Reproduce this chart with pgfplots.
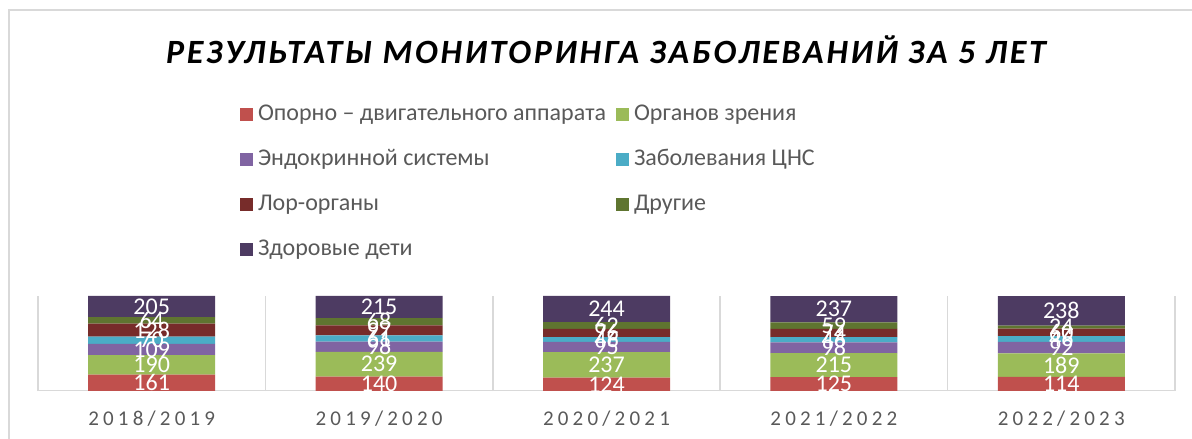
\documentclass[border=0pt]{standalone}
\usepackage{fontspec}
\setmainfont{Carlito}
\newfontfamily\titlefont[LetterSpace=8]{Carlito}
\newfontfamily\tickfont[LetterSpace=20]{Carlito}
\usepackage{pgfplots}
\usepackage{pgfplotstable}
\pgfplotsset{compat=1.18}

\definecolor{cOpora}{HTML}{C0504D}
\definecolor{cZrenie}{HTML}{9BBB59}
\definecolor{cEndo}{HTML}{8064A2}
\definecolor{cCNS}{HTML}{4BACC6}
\definecolor{cLor}{HTML}{772C2A}
\definecolor{cOther}{HTML}{5F7530}
\definecolor{cHealthy}{HTML}{4D3B62}
\definecolor{gridgray}{HTML}{D9D9D9}
\definecolor{textgray}{HTML}{595959}

% a: опорно-двигательный, b: зрение, c: эндокр., d: ЦНС, e: лор, f: другие, g: здоровые
\pgfplotstableread{
x a b c d e f g
0 161 190 109 70 128 64 205
1 140 239 98 61 97 68 215
2 124 237 95 46 76 62 244
3 125 215 98 46 74 59 237
4 114 189 92 46 60 24 238
}\data
\pgfplotstablecreatecol[create col/expr={\thisrow{a}+\thisrow{b}+\thisrow{c}+\thisrow{d}+\thisrow{e}+\thisrow{f}+\thisrow{g}}]{t}\data

\pgfplotsset{
  frame axis/.style={
    at={(19bp,24bp)}, anchor=south west,
    scale only axis, width=568.5bp, height=47.5bp,
    xmin=-0.5, xmax=4.5, ymin=0, ymax=100,
  },
}

\newcommand{\seg}[2]{%
  \addplot[fill=#2, draw=none] table[x=x, y expr={\thisrow{#1}/\thisrow{t}*100}]{\data};}
\newcommand{\lbl}[2]{%
  \addplot[draw=none, mark=none, nodes near coords, point meta=explicit,
    nodes near coords align=center]
    table[x=x, y expr={(#2)/\thisrow{t}*100}, meta=#1]{\data};}

\begin{document}
\begin{tikzpicture}
\useasboundingbox (0,0) rectangle (596bp,219.5bp);
\draw[gridgray, line width=0.75bp] (4.5bp,-2bp) -- (4.5bp,214.5bp) -- (600bp,214.5bp);

\node[font=\titlefont\bfseries\itshape\fontsize{17bp}{19bp}\selectfont]
  at (303bp,194.5bp) {РЕЗУЛЬТАТЫ МОНИТОРИНГА ЗАБОЛЕВАНИЙ ЗА 5 ЛЕТ};

\begin{axis}[
  frame axis,
  ybar stacked, bar width=63.5bp,
  axis line style={draw=none},
  ytick=\empty,
  xtick={0,1,2,3,4},
  xticklabels={2018/2019,2019/2020,2020/2021,2021/2022,2022/2023},
  major x tick style={draw=none},
  xticklabel style={font=\tickfont\fontsize{10.5bp}{12bp}\selectfont,
    text=textgray, anchor=base, yshift=-17bp},
  extra x ticks={-0.5,0.5,1.5,2.5,3.5,4.5},
  extra x tick labels={},
  extra x tick style={grid=major, major grid style={gridgray, line width=0.75bp},
    major tick style={draw=none}},
  legend columns=2,
  legend cell align=left,
  legend style={at={(axis description cs:0.1777,3.03)}, anchor=north west,
    draw=none, fill=none, inner sep=0pt, outer sep=0pt, row sep=11.5bp,
    nodes={inner sep=0pt, text=textgray,
      font=\fontsize{12bp}{14bp}\selectfont, text height=8.5bp, text depth=2.5bp},
    /tikz/every even column/.append style={column sep=5bp}},
  legend image code/.code={%
    \fill[#1, draw=none] (0bp,-3.25bp) rectangle (6.5bp,3.25bp);
    \path (9bp,0bp);},
]
\seg{a}{cOpora}
\seg{b}{cZrenie}
\seg{c}{cEndo}
\seg{d}{cCNS}
\seg{e}{cLor}
\seg{f}{cOther}
\seg{g}{cHealthy}
\legend{Опорно – двигательного аппарата, Органов зрения, Эндокринной системы,
  Заболевания ЦНС, Лор-органы, Другие, Здоровые дети}
\draw[gridgray, line width=0.75bp] (rel axis cs:0,0) -- (rel axis cs:1,0);
\end{axis}

\begin{axis}[
  frame axis, hide axis, clip=false,
  /pgf/number format/assume math mode=true,
  every node near coord/.append style={text=white,
    font=\fontsize{12bp}{14bp}\selectfont, inner sep=0pt},
]
\lbl{a}{\thisrow{a}/2}
\lbl{b}{\thisrow{a}+\thisrow{b}/2}
\lbl{c}{\thisrow{a}+\thisrow{b}+\thisrow{c}/2}
\lbl{d}{\thisrow{a}+\thisrow{b}+\thisrow{c}+\thisrow{d}/2}
\lbl{e}{\thisrow{a}+\thisrow{b}+\thisrow{c}+\thisrow{d}+\thisrow{e}/2}
\lbl{f}{\thisrow{a}+\thisrow{b}+\thisrow{c}+\thisrow{d}+\thisrow{e}+\thisrow{f}/2}
\lbl{g}{\thisrow{a}+\thisrow{b}+\thisrow{c}+\thisrow{d}+\thisrow{e}+\thisrow{f}+\thisrow{g}/2}
\end{axis}
\end{tikzpicture}
\end{document}
